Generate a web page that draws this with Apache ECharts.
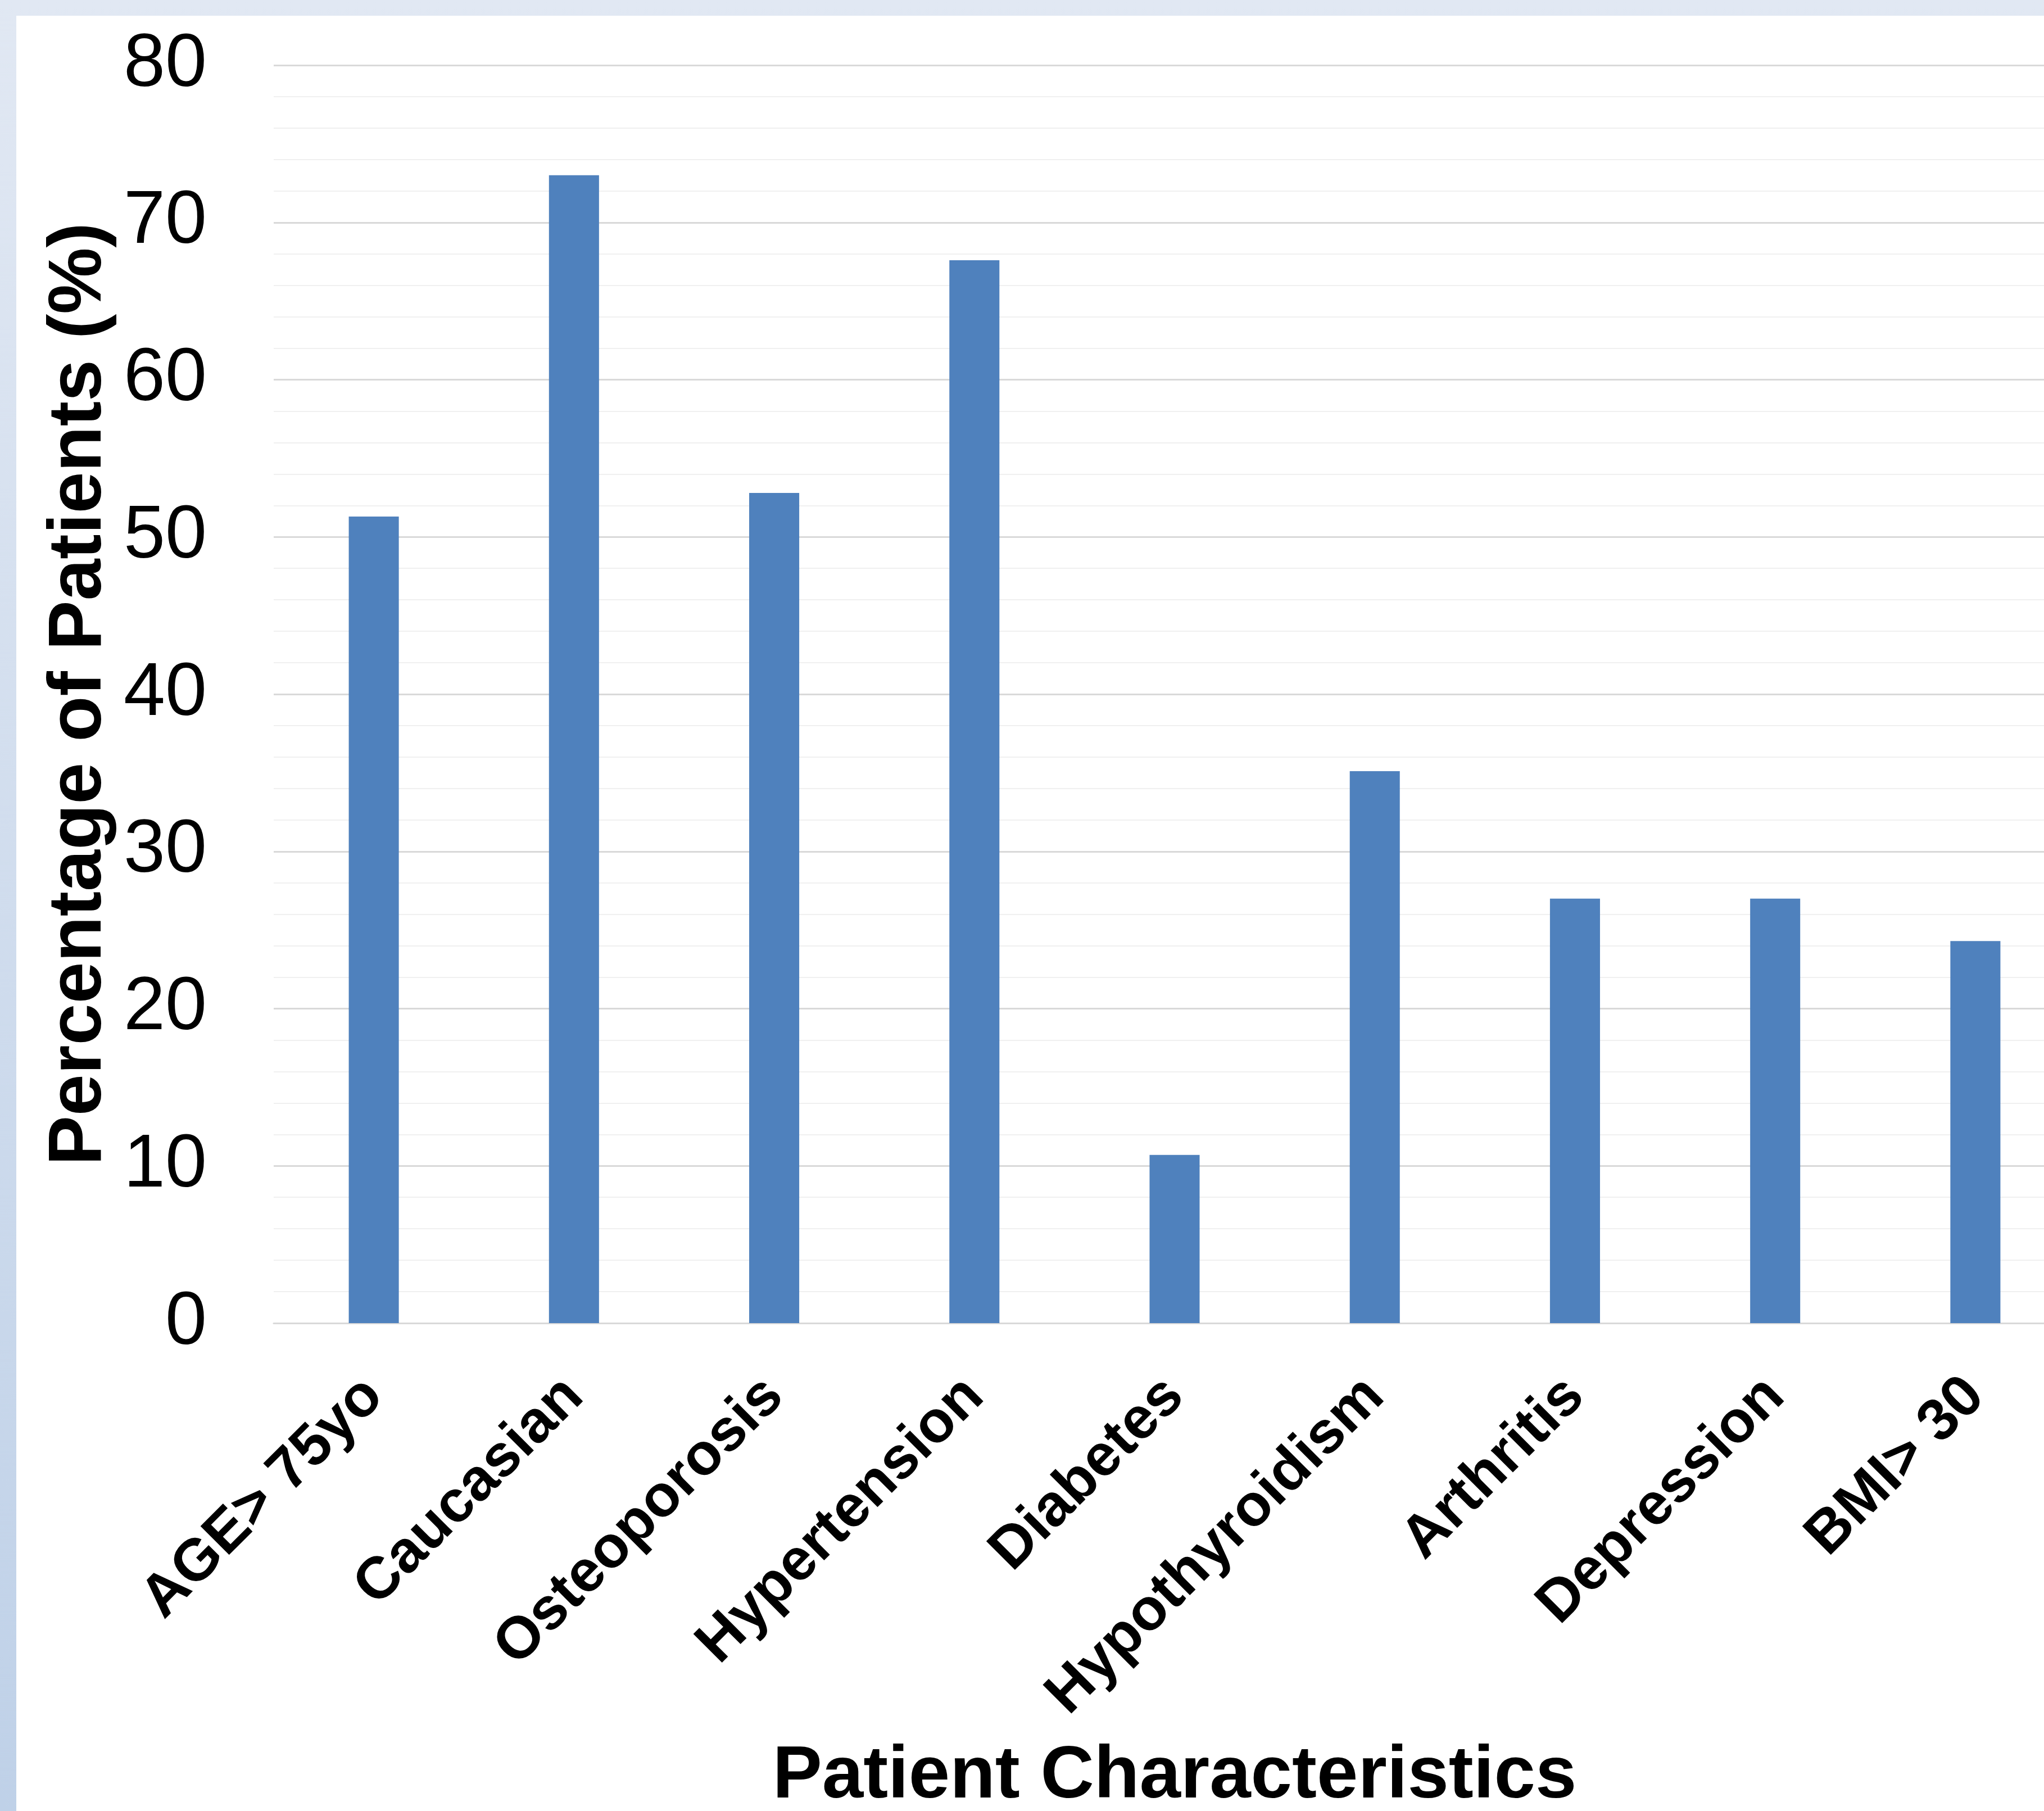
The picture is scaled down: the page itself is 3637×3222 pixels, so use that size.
<!DOCTYPE html>
<html>
<head>
<meta charset="utf-8">
<script src="https://cdn.jsdelivr.net/npm/echarts@6/dist/echarts.min.js"></script>
<style>
html,body{margin:0;padding:0;background:#fff;}
#c{width:3637px;height:3222px;}
</style>
</head>
<body>
<div id="c"></div>
<script>
const categories = ['AGE> 75yo','Caucasian','Osteoporosis','Hypertension','Diabetes','Hypothyroidism','Arthritis','Depression','BMI> 30'];
const values = [51.3, 73.0, 52.8, 67.6, 10.7, 35.1, 27.0, 27.0, 24.3];
const yRange = [0, 80];
const yInterval = 10;
const xTitle = 'Patient Characteristics';
const yTitle = 'Percentage of Patients (%)';

const FONT = '"Liberation Sans", Arial, sans-serif';
const chart = echarts.init(document.getElementById('c'), null, {renderer: 'canvas'});
chart.setOption({
  animation: false,
  backgroundColor: '#ffffff',
  graphic: [
    {type: 'rect', z: -100, silent: true, shape: {x: 0, y: 0, width: 3637, height: 3222},
     style: {fill: new echarts.graphic.LinearGradient(0, 0, 0, 1, [{offset: 0, color: '#E1E8F3'}, {offset: 1, color: '#BFD1E8'}])}},
    {type: 'rect', z: -99, silent: true, shape: {x: 29, y: 28, width: 3608, height: 3194}, style: {fill: '#ffffff'}}
  ],
  grid: {left: 487, top: 116, width: 3206, height: 2238, containLabel: false, outerBoundsMode: 'none'},
  xAxis: {
    type: 'category',
    data: categories,
    name: xTitle,
    nameLocation: 'middle',
    nameGap: 742,
    nameTextStyle: {fontFamily: FONT, fontSize: 132, fontWeight: 'bold', color: '#000'},
    axisLine: {show: true, lineStyle: {color: '#D9D9D9', width: 3}},
    axisTick: {show: false},
    axisLabel: {interval: 0, rotate: 45, margin: 114, fontFamily: FONT, fontSize: 105, fontWeight: 'bold', color: '#000'},
    splitLine: {show: false}
  },
  yAxis: {
    type: 'value',
    min: yRange[0], max: yRange[1], interval: yInterval,
    name: yTitle,
    nameLocation: 'middle',
    nameGap: 244,
    nameTextStyle: {fontFamily: FONT, fontSize: 133, fontWeight: 'bold', color: '#000'},
    axisLine: {show: false},
    axisTick: {show: false},
    axisLabel: {margin: 119, fontFamily: FONT, fontSize: 133, color: '#000'},
    splitLine: {show: true, lineStyle: {color: '#D9D9D9', width: 3}},
    minorTick: {show: false, splitNumber: 5},
    minorSplitLine: {show: true, lineStyle: {color: '#F0F0F0', width: 2}}
  },
  series: [{
    type: 'bar',
    data: values,
    barWidth: '25%',
    itemStyle: {color: '#4F81BD'}
  }]
});
</script>
</body>
</html>
